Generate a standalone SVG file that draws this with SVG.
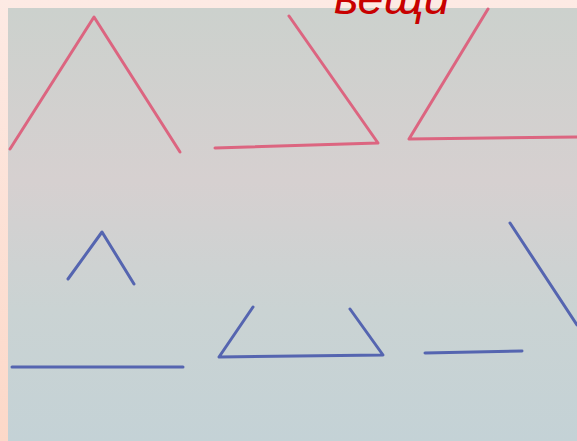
<svg xmlns="http://www.w3.org/2000/svg" width="577" height="441" viewBox="0 0 577 441">
<defs>
<linearGradient id="frame" x1="0" y1="0" x2="0" y2="1">
<stop offset="0" stop-color="#fdeae4"/>
<stop offset="1" stop-color="#fcd8c8"/>
</linearGradient>
<linearGradient id="paper" x1="0" y1="0" x2="0" y2="1">
<stop offset="0" stop-color="#ccd1cd"/>
<stop offset="0.4" stop-color="#d6d0d0"/>
<stop offset="0.7" stop-color="#cad3d3"/>
<stop offset="1" stop-color="#c4d2d6"/>
</linearGradient>
<style>
.red{fill:none;stroke:#dc6580;stroke-width:3;stroke-linecap:round;stroke-linejoin:round}
.blue{fill:none;stroke:#5565b0;stroke-width:3;stroke-linecap:round;stroke-linejoin:round}
</style>
</defs>
<rect x="0" y="0" width="577" height="441" fill="url(#frame)"/>
<rect x="8" y="8" width="569" height="433" fill="url(#paper)"/>
<g id="red-figures">
<polyline class="red" points="10,149 94,17 180,152"/>
<polyline class="red" points="289,16 378,143 215,148"/>
<polyline class="red" points="488,9 409,139 577,137"/>
</g>
<g id="blue-figures">
<polyline class="blue" points="68,279 102,232 134,284"/>
<line class="blue" x1="12" y1="367" x2="183" y2="367"/>
<polyline class="blue" points="253,307 219,357 383,355 350,309"/>
<line class="blue" x1="510" y1="223" x2="577" y2="325"/>
<line class="blue" x1="425" y1="353" x2="522" y2="351"/>
</g>
<text x="334" y="14" font-family="Liberation Sans, Arial, sans-serif" font-style="italic" font-size="47" fill="#c80000">вещи</text>
</svg>
